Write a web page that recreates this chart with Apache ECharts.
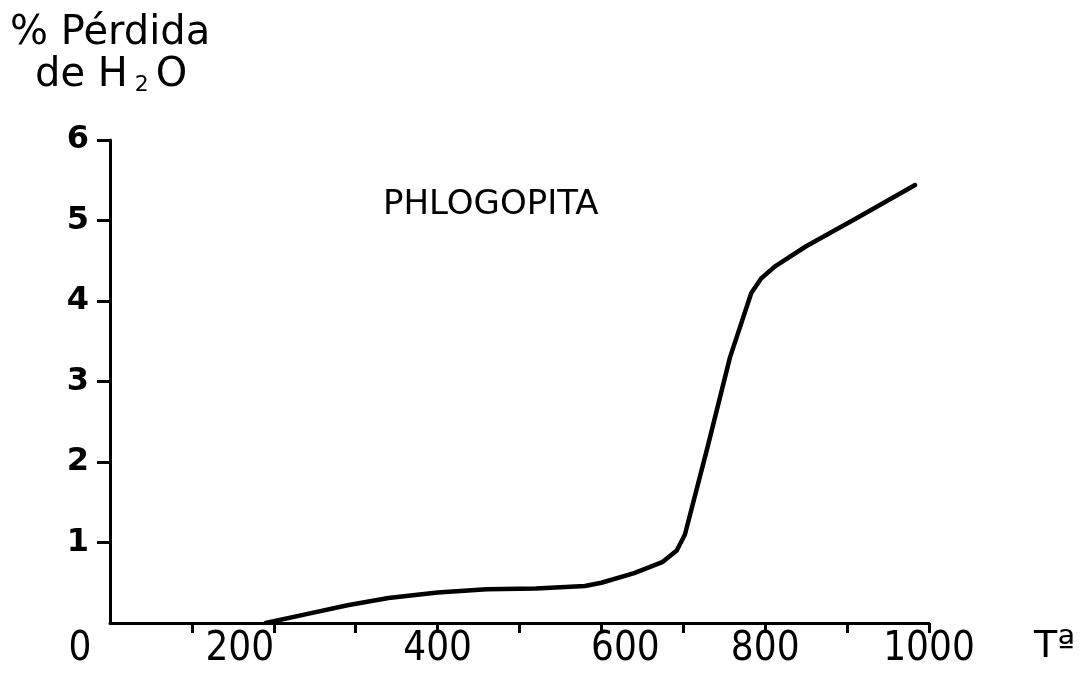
<!DOCTYPE html>
<html>
<head>
<meta charset="utf-8">
<script src="https://cdn.jsdelivr.net/npm/echarts@6/dist/echarts.min.js"></script>
<style>html,body{margin:0;padding:0;background:#fff}#c{width:1080px;height:679px}</style>
</head>
<body>
<div id="c"></div>
<script>
// Data (temperature vs % water loss)
var temps = [190, 240, 290, 340, 400, 460, 520, 580, 600, 640, 675, 692, 702, 730, 757, 783, 795, 812, 850, 912, 983];
var loss  = [0, 0.11, 0.22, 0.31, 0.38, 0.42, 0.43, 0.46, 0.5, 0.62, 0.76, 0.9, 1.1, 2.2, 3.3, 4.1, 4.28, 4.43, 4.68, 5.03, 5.44];
var xTickLabels = [0, 200, 400, 600, 800, 1000];
var xTickMarks = [100, 200, 300, 400, 500, 600, 700, 800, 900, 1000];
var yTickLabels = [1, 2, 3, 4, 5, 6];
var chartTitle = 'PHLOGOPITA';
var yName1 = '% Pérdida';
var xName = 'Tª';

var points = temps.map(function (t, i) { return [t, loss[i]]; });
var xFont = "'DejaVu Sans Condensed', 'DejaVu Sans', sans-serif";
var baseFont = "'DejaVu Sans', sans-serif";

var chart = echarts.init(document.getElementById('c'));
chart.setOption({
  backgroundColor: '#ffffff',
  animation: false,
  grid: { left: 110, right: 151, top: 140, bottom: 56 },
  xAxis: {
    type: 'value', min: 0, max: 1000, interval: 100,
    splitLine: { show: false },
    axisLine: { lineStyle: { color: '#000', width: 3 } },
    axisTick: { length: 10, customValues: xTickMarks, lineStyle: { color: '#000', width: 3 } },
    axisLabel: {
      customValues: xTickLabels,
      margin: 7,
      formatter: function (v) {
        if (v === 0) return '{l60|0}';
        if (v === 200) return '{l68|200}';
        if (v === 600) return '{r48|600}';
        if (v % 200 === 0) return '{n|' + v + '}';
        return '';
      },
      rich: {
        n: { fontSize: 40, fontFamily: xFont, color: '#000' },
        l60: { fontSize: 40, fontFamily: xFont, color: '#000', padding: [0, 60, 0, 0] },
        l68: { fontSize: 40, fontFamily: xFont, color: '#000', padding: [0, 68, 0, 0] },
        r48: { fontSize: 40, fontFamily: xFont, color: '#000', padding: [0, 0, 0, 48] }
      }
    }
  },
  yAxis: {
    type: 'value', min: 0, max: 6, interval: 1,
    splitLine: { show: false },
    axisLine: { lineStyle: { color: '#000', width: 3 } },
    axisTick: { length: 13, customValues: yTickLabels, lineStyle: { color: '#000', width: 3 } },
    axisLabel: {
      customValues: yTickLabels,
      margin: 21,
      fontSize: 32, fontWeight: 'bold', fontFamily: baseFont, color: '#000',
      formatter: function (v) { return v === 0 ? '' : String(v); }
    }
  },
  series: [{
    type: 'line',
    data: points,
    showSymbol: false,
    smooth: false,
    lineStyle: { color: '#000', width: 4.5, cap: 'round', join: 'round' }
  }],
  graphic: [
    { type: 'text', left: 383, top: 188,
      style: { text: chartTitle, fontSize: 34, fontFamily: baseFont, fill: '#000' } },
    { type: 'text', left: 10, top: 14,
      style: { text: yName1, fontSize: 40, fontFamily: baseFont, fill: '#000' } },
    { type: 'text', left: 35, top: 56,
      style: {
        text: '{a|de H}{s| 2 }{a|O}',
        rich: {
          a: { fontSize: 40, fontFamily: baseFont, fill: '#000', color: '#000' },
          s: { fontSize: 22, fontFamily: baseFont, fill: '#000', color: '#000', verticalAlign: 'bottom', padding: [18, 0, 0, 0] }
        }
      } },
    { type: 'text', left: 1034, top: 628,
      style: { text: xName, fontSize: 38, fontFamily: baseFont, fill: '#000' } }
  ]
});
</script>
</body>
</html>
